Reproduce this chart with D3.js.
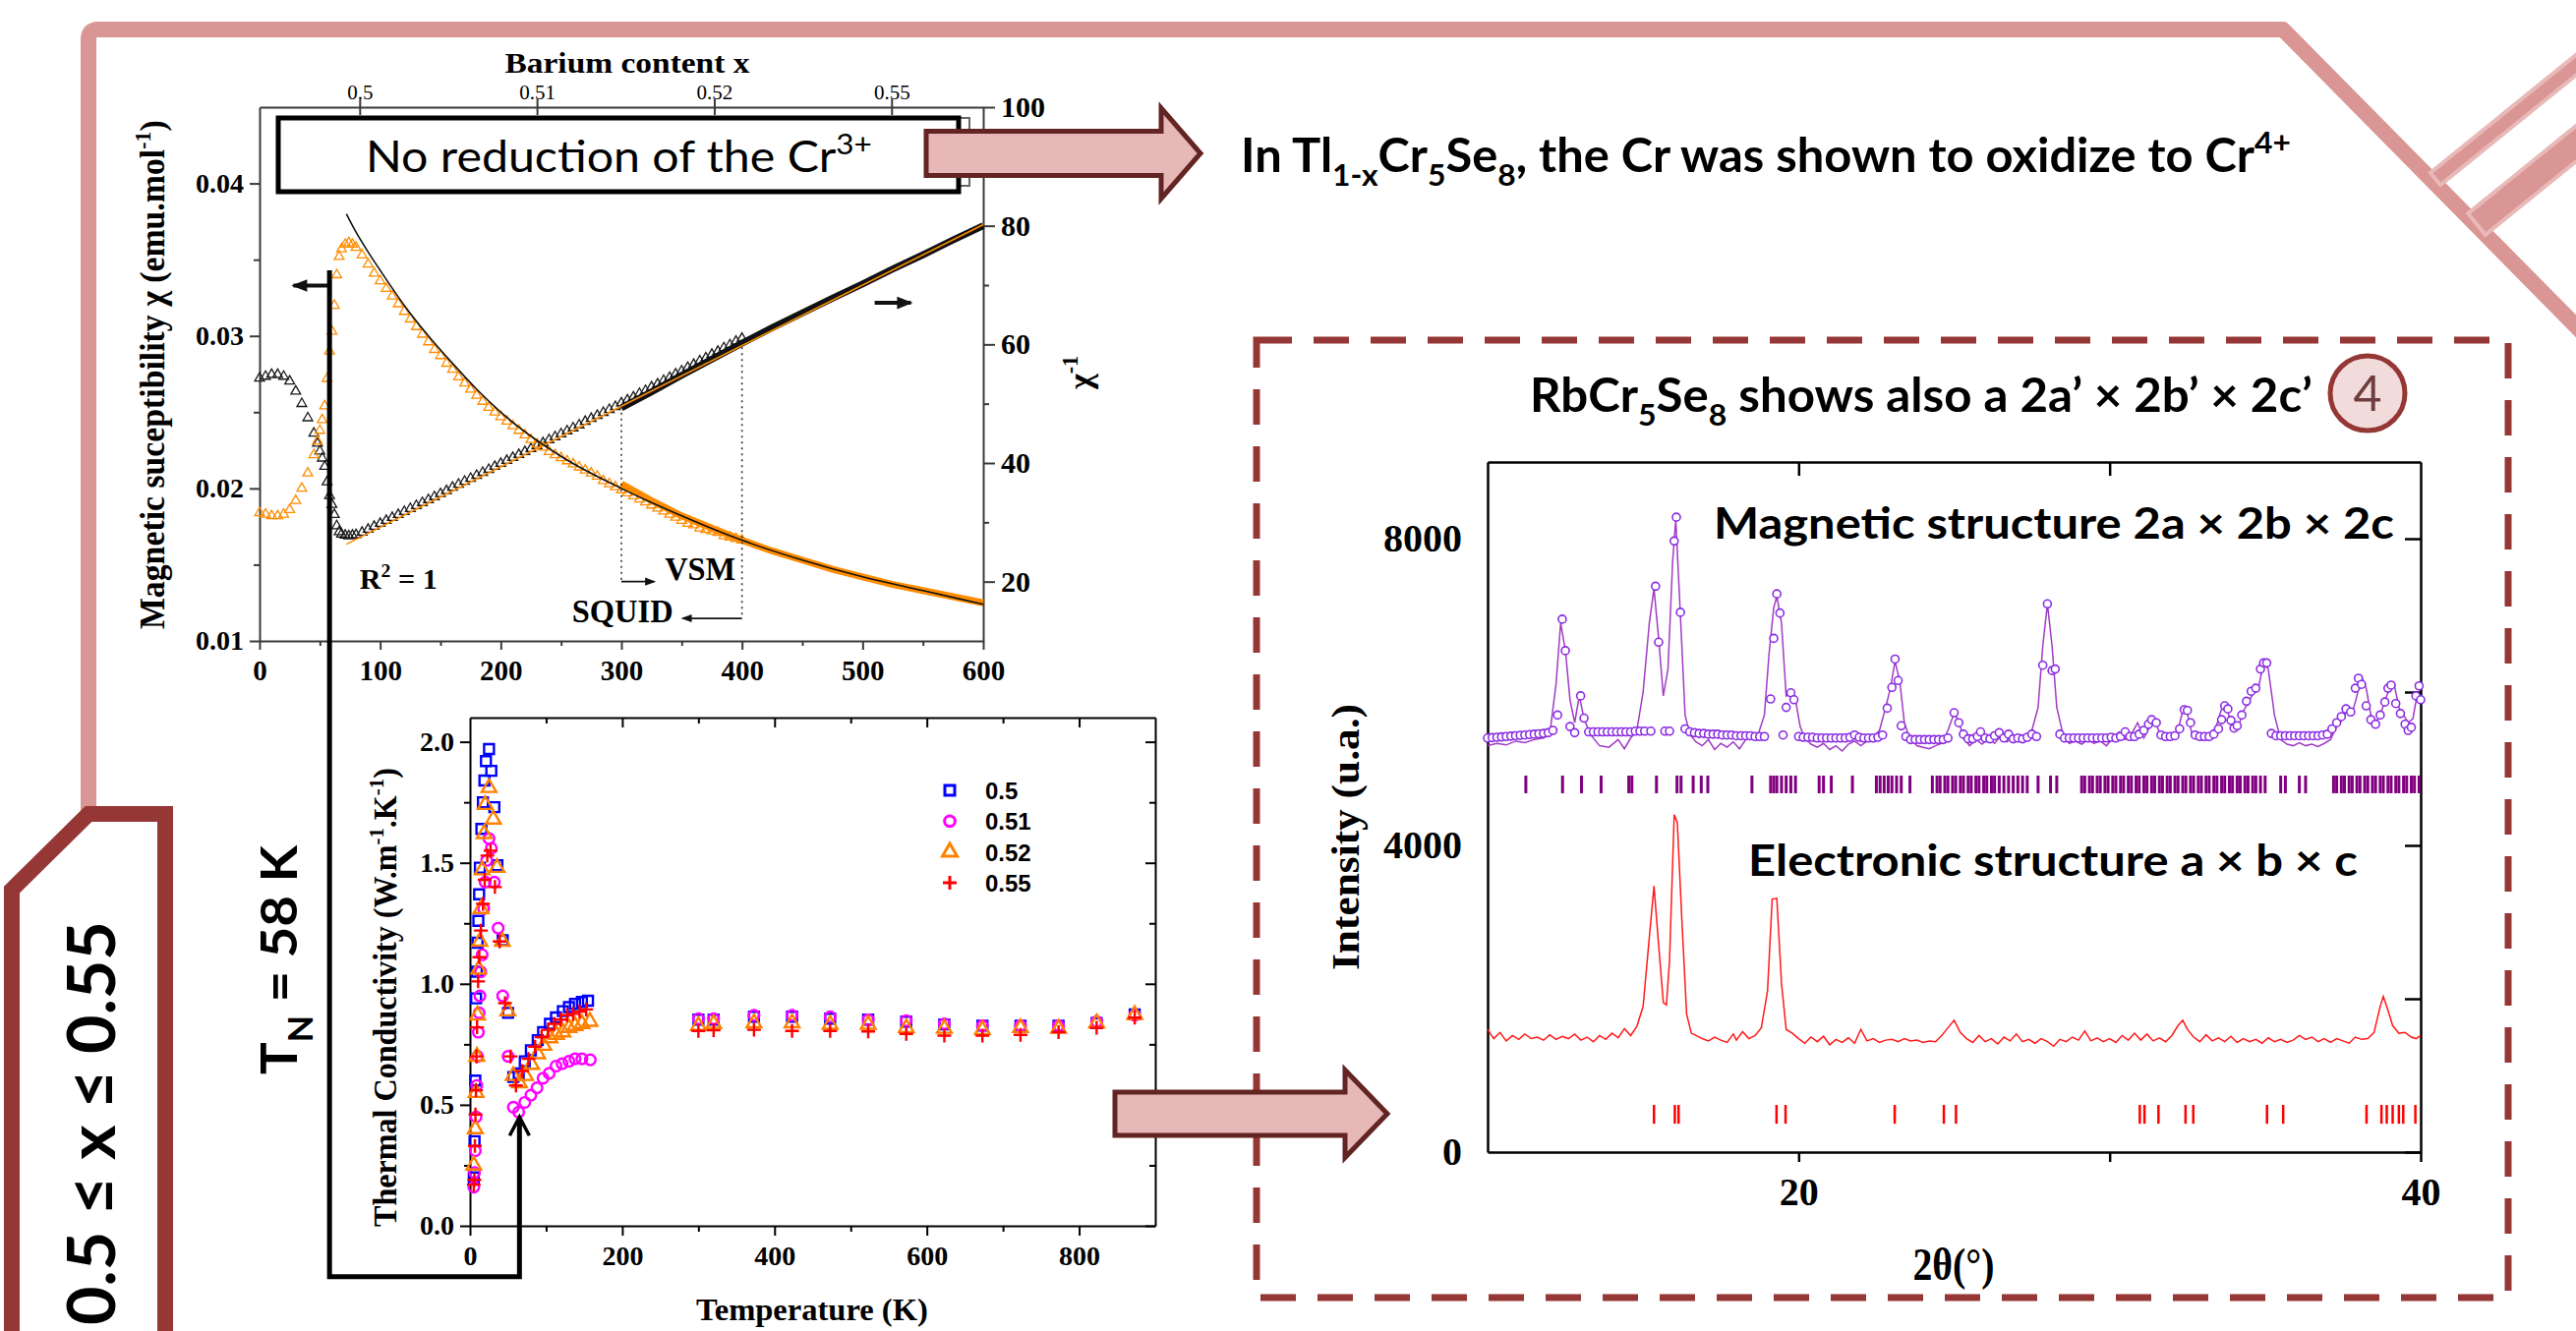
<!DOCTYPE html>
<html><head><meta charset="utf-8">
<script src="https://cdn.jsdelivr.net/npm/d3@7/dist/d3.min.js"></script>
<style>html,body{margin:0;padding:0;background:#fff;}svg{display:block;}</style>
</head><body>
<svg id="slide" width="2620" height="1354" xmlns="http://www.w3.org/2000/svg"></svg>
<script>
// ================= DATA =================
// --- Chart 1: magnetic susceptibility vs T (SQUID triangles) ---
const susT = [0,5,10,15,20,25,30,35,40,45,48,50,52,54,56,58,60,62,64,66,68,71,74,77,
  80,85,90,95,100,105,110,115,120,125,130,135,140,145,150,155,160,165,170,175,180,185,190,195,
  200,205,210,215,220,225,230,235,240,245,250,255,260,265,270,275,280,285,290,295,
  300,305,310,315,320,325,330,335,340,345,350,355,360,365,370,375,380,385,390,395,400];
const susChi = [.0184,.0183,.0182,.0182,.0183,.0186,.0192,.0200,.0210,.0222,
  .0231,.0238,.0245,.0254,.0272,.0290,.0303,.0320,.0340,.0352,.0357,.0360,.0361,.0360,
  .0358,.0353,.0347,.0341,.0336,.0331,.0326,.0321,.0316,.0311,.0306,.0301,.0296,.0291,.0287,.0282,
  .0278,.0273,.0269,.0265,.0261,.0257,.0253,.0250,.0247,.0244,.0241,.0238,.0235,.0232,.0229,.0227,
  .0224,.0222,.0220,.0218,.0216,.0214,.0212,.0210,.0208,.0205,.0203,.0201,.0199,.0197,.0195,.0193,
  .0191,.0189,.0187,.0185,.0183,.0181,.0179,.0177,.0176,.0174,.0173,.0172,.0171,.0169,.0168,.0167,.0166];
const susInv = [54.3,54.6,54.9,54.9,54.6,53.8,52.1,50.0,47.6,45.0,
  43.3,42.0,40.8,39.4,36.8,34.5,33.0,31.3,29.4,28.4,28.0,27.8,27.7,27.8,
  27.9,28.3,28.8,29.3,29.8,30.3,30.8,31.3,31.8,32.3,32.8,33.3,33.8,34.3,34.8,35.3,
  35.9,36.4,36.9,37.4,37.9,38.4,38.9,39.4,39.9,40.4,40.9,41.4,41.9,42.4,42.9,43.4,
  43.9,44.4,44.9,45.4,45.9,46.4,47.0,47.5,48.0,48.5,49.0,49.5,50.1,50.6,51.1,51.7,
  52.2,52.8,53.3,53.9,54.4,55.0,55.5,56.1,56.6,57.2,57.7,58.3,58.8,59.4,59.9,60.5,61.0];
// VSM (thick lines)
const vsmT   = [300,325,350,375,400,425,450,475,500,525,550,575,600];
const vsmChi = [.0203,.0192,.0182,.0174,.0166,.0159,.0153,.0147,.0142,.0137,.0133,.0129,.0125];
const vsmInv = [49.3,52.0,54.8,57.5,60.2,62.8,65.3,67.8,70.2,72.7,75.1,77.6,80.0];
// fits
const cwT   = [72,80,90,100,120,140,160,180,200,250,300,350,400,450,500,550,600];
const cwChi = [.0380,.0368,.0355,.0343,.0320,.0300,.0282,.0265,.0250,.0221,.0200,.0182,.0166,.0153,.0142,.0133,.0124];
const linT   = [72,600];
const linInv = [26.3,80.2];
// top axis (barium content)
const bariumLabels = ["0.5","0.51","0.52","0.55"];
const bariumT      = [83,230,377,524];
const chiTicks = [0.01,0.02,0.03,0.04];
const invTicks = [20,40,60,80,100];
const tempTicks1 = [0,100,200,300,400,500,600];

// --- Chart 2: thermal conductivity ---
const tcNames = ["0.5","0.51","0.52","0.55"];
const tc05T = [5,6,7,8,9,10,11,12,13,15,17,19,21,25,28,32,36,43,50,57,64,72,80,89,96,105,113,122,130,138,147,155,
  300,320,373,423,473,523,573,623,673,723,773,823,873];
const tc05K = [0.20,0.35,0.60,0.94,1.05,1.17,1.26,1.37,1.48,1.64,1.75,1.84,1.92,1.97,1.88,1.73,1.49,1.18,0.88,0.615,0.63,0.68,0.725,0.767,0.80,0.835,0.861,0.887,0.904,0.917,0.925,0.93,
  0.852,0.852,0.864,0.864,0.856,0.852,0.844,0.832,0.827,0.827,0.827,0.838,0.874];
const tc051T = [5,6,7,8,9,10,11,12,13,14,16,18,20,22,25,28,32,37,43,50,57,64,72,80,88,96,104,113,121,130,138,147,158,
  300,320,373,423,473,523,573,623,673,723,773,823,873];
const tc051K = [0.16,0.22,0.31,0.45,0.58,0.70,0.80,0.88,0.95,1.05,1.12,1.31,1.42,1.51,1.60,1.56,1.42,1.23,0.95,0.70,0.49,0.47,0.51,0.54,0.57,0.61,0.63,0.66,0.67,0.68,0.69,0.69,0.686,
  0.856,0.856,0.870,0.870,0.864,0.852,0.848,0.835,0.827,0.827,0.827,0.844,0.870];
const tc052T = [5,7,8,9,10,11.5,13,14.5,16,18.6,20,25,30.6,35.5,42.6,49.7,56.8,65,73,81,89,97,105,113.5,122,130,138,147,157.5,
  300,320,373,423,473,523,573,623,673,723,773,823,873];
const tc052K = [0.25,0.40,0.55,0.70,0.87,1.06,1.175,1.31,1.47,1.62,1.74,1.81,1.68,1.48,1.175,0.887,0.62,0.59,0.62,0.666,0.71,0.745,0.776,0.79,0.80,0.818,0.827,0.835,0.844,
  0.827,0.835,0.838,0.838,0.832,0.832,0.818,0.815,0.81,0.818,0.815,0.838,0.872];
const tc055T = [5,5.8,6.5,7.2,7.9,8.5,9.3,10.7,12.2,14.4,17.1,19.3,22.8,27,32.8,39,46,53.3,60.4,68.3,76.8,85.5,94,102.5,110.5,119,127.6,135.5,144,152.6,
  300,320,373,423,473,523,573,623,673,723,773,823,873];
const tc055K = [0.17,0.19,0.33,0.46,0.56,0.70,0.82,1.01,1.11,1.22,1.33,1.43,1.53,1.55,1.40,1.175,0.92,0.70,0.58,0.64,0.69,0.74,0.78,0.81,0.835,0.852,0.87,0.876,0.885,0.894,
  0.805,0.808,0.81,0.805,0.805,0.803,0.793,0.786,0.786,0.789,0.80,0.818,0.86];
const tcTicksY = [0,0.5,1,1.5,2];
const tcTicksX = [0,200,400,600,800];

// --- Chart 3: XRD patterns ---
const magLine = [[10.0,5300],[10.3,5330],[10.6,5310],[10.9,5360],[11.2,5340],[11.5,5380],[11.8,5400],[12.0,5450],[12.2,6100],[12.35,6900],[12.5,6550],[12.65,5900],[12.8,5600],[12.95,5950],[13.1,5650],[13.3,5450],[13.6,5300],[13.9,5280],[14.2,5380],[14.4,5260],[14.6,5400],[14.8,5500],[15.0,6000],[15.2,6900],[15.35,7350],[15.5,6700],[15.65,5950],[15.8,6300],[15.95,7700],[16.05,8250],[16.2,7000],[16.35,5700],[16.5,5450],[16.7,5350],[16.9,5300],[17.1,5380],[17.3,5250],[17.5,5330],[17.7,5280],[17.9,5350],[18.1,5260],[18.3,5380],[18.5,5400],[18.7,5450],[18.9,5700],[19.05,6500],[19.2,7100],[19.3,7250],[19.45,6900],[19.6,5950],[19.75,6000],[19.9,5900],[20.05,5550],[20.2,5400],[20.4,5320],[20.6,5280],[20.8,5330],[21.0,5250],[21.2,5300],[21.4,5230],[21.6,5320],[21.8,5360],[22.0,5300],[22.2,5360],[22.4,5420],[22.6,5500],[22.8,5800],[22.95,6050],[23.1,6400],[23.25,6150],[23.4,5600],[23.55,5420],[23.8,5300],[24.0,5280],[24.2,5260],[24.4,5300],[24.6,5330],[24.8,5500],[25.0,5720],[25.15,5620],[25.3,5400],[25.5,5300],[25.7,5380],[25.9,5320],[26.1,5400],[26.3,5330],[26.5,5430],[26.7,5350],[26.9,5420],[27.1,5380],[27.3,5430],[27.5,5500],[27.7,5800],[27.85,6600],[28.0,7150],[28.15,6600],[28.3,5800],[28.5,5450],[28.7,5330],[28.9,5360],[29.1,5320],[29.3,5380],[29.5,5330],[29.7,5360],[29.9,5300],[30.1,5400],[30.3,5480],[30.5,5380],[30.7,5450],[30.9,5600],[31.1,5400],[31.3,5560],[31.45,5640],[31.6,5470],[31.8,5400],[32.0,5380],[32.2,5500],[32.35,5760],[32.5,5720],[32.65,5450],[32.85,5400],[33.0,5380],[33.2,5450],[33.4,5520],[33.6,5780],[33.75,5820],[33.9,5600],[34.1,5500],[34.3,5750],[34.5,5900],[34.65,6000],[34.8,6080],[34.95,6380],[35.1,6300],[35.3,5700],[35.5,5380],[35.7,5320],[35.9,5300],[36.1,5340],[36.3,5300],[36.5,5320],[36.7,5290],[36.9,5330],[37.1,5380],[37.3,5550],[37.5,5650],[37.65,5780],[37.8,5720],[37.95,5950],[38.1,6200],[38.25,6050],[38.4,5700],[38.55,5600],[38.7,5700],[38.85,5880],[39.0,6050],[39.15,6100],[39.3,5800],[39.45,5700],[39.6,5600],[39.75,5650],[39.9,6000],[40.0,5850]];
const magObs = [[10.0,5400],[10.15,5405],[10.3,5410],[10.45,5415],[10.6,5420],[10.75,5425],[10.9,5430],[11.05,5435],[11.2,5440],[11.35,5445],[11.5,5450],[11.65,5455],[11.8,5460],[11.95,5470],[12.1,5500],[12.25,5700],[12.4,6950],[12.5,6540],[12.65,5550],[12.8,5470],[12.99,5950],[13.1,5660],[13.25,5480],[13.4,5480],[13.55,5480],[13.7,5480],[13.85,5480],[14.0,5480],[14.15,5480],[14.3,5480],[14.45,5480],[14.6,5480],[14.75,5490],[14.9,5490],[15.05,5490],[15.25,5490],[15.4,7380],[15.5,6650],[15.7,5490],[15.85,5490],[16.0,7970],[16.07,8280],[16.2,7040],[16.35,5520],[16.5,5480],[16.65,5470],[16.8,5460],[16.95,5460],[17.1,5450],[17.25,5450],[17.4,5450],[17.55,5440],[17.7,5440],[17.85,5440],[18.0,5430],[18.15,5430],[18.3,5430],[18.45,5430],[18.6,5420],[18.75,5420],[18.9,5420],[19.1,5910],[19.2,6700],[19.3,7280],[19.4,7030],[19.5,5440],[19.6,5800],[19.75,5990],[19.85,5900],[20.0,5420],[20.15,5410],[20.3,5410],[20.45,5410],[20.6,5400],[20.75,5400],[20.9,5400],[21.05,5400],[21.2,5400],[21.35,5400],[21.5,5400],[21.65,5410],[21.8,5440],[21.95,5410],[22.1,5400],[22.25,5400],[22.4,5400],[22.55,5410],[22.7,5440],[22.85,5790],[23.0,6060],[23.1,6430],[23.2,6150],[23.3,5560],[23.45,5420],[23.6,5380],[23.75,5380],[23.9,5380],[24.05,5380],[24.2,5380],[24.35,5380],[24.5,5380],[24.65,5380],[24.8,5400],[25.0,5730],[25.15,5600],[25.3,5450],[25.45,5390],[25.6,5390],[25.75,5420],[25.85,5480],[26.0,5400],[26.15,5390],[26.3,5430],[26.45,5470],[26.6,5400],[26.75,5450],[26.9,5390],[27.05,5400],[27.2,5390],[27.35,5410],[27.5,5450],[27.65,5420],[27.85,6350],[28.0,7150],[28.15,6280],[28.25,6300],[28.4,5450],[28.55,5400],[28.7,5400],[28.85,5400],[29.0,5400],[29.15,5400],[29.3,5400],[29.45,5400],[29.6,5400],[29.75,5400],[29.9,5400],[30.05,5410],[30.2,5400],[30.35,5420],[30.5,5480],[30.65,5420],[30.8,5420],[30.95,5450],[31.1,5500],[31.25,5580],[31.35,5640],[31.5,5600],[31.65,5440],[31.8,5420],[31.95,5420],[32.1,5430],[32.25,5520],[32.4,5770],[32.5,5760],[32.6,5600],[32.75,5440],[32.9,5420],[33.05,5420],[33.2,5420],[33.35,5450],[33.5,5520],[33.6,5640],[33.7,5820],[33.8,5780],[33.9,5630],[34.0,5530],[34.1,5560],[34.25,5700],[34.4,5880],[34.55,6010],[34.7,6050],[34.85,6300],[34.95,6380],[35.05,6380],[35.2,5460],[35.35,5430],[35.5,5430],[35.65,5430],[35.8,5430],[35.95,5430],[36.1,5430],[36.25,5430],[36.4,5430],[36.55,5430],[36.7,5430],[36.85,5440],[37.0,5450],[37.15,5520],[37.3,5600],[37.45,5680],[37.6,5780],[37.75,5740],[37.9,6050],[38.0,6180],[38.1,6100],[38.25,5820],[38.4,5640],[38.55,5580],[38.7,5700],[38.85,5870],[38.95,6050],[39.05,6090],[39.2,5850],[39.35,5720],[39.5,5580],[39.6,5500],[39.7,5540],[39.85,5950],[39.95,6080],[40.0,5900]];
const elecLine = [[10.0,1600],[10.2,1480],[10.4,1560],[10.6,1450],[10.8,1520],[11.0,1470],[11.2,1540],[11.4,1480],[11.6,1500],[11.8,1460],[12.0,1530],[12.2,1470],[12.4,1510],[12.6,1480],[12.8,1540],[13.0,1460],[13.2,1500],[13.4,1440],[13.6,1520],[13.8,1470],[14.0,1550],[14.2,1490],[14.4,1610],[14.6,1520],[14.8,1640],[15.0,1900],[15.2,2800],[15.35,3470],[15.5,2700],[15.65,1950],[15.75,1920],[15.85,2500],[16.0,4400],[16.1,4300],[16.25,3000],[16.4,1800],[16.55,1550],[16.7,1520],[16.9,1480],[17.1,1450],[17.3,1500],[17.5,1460],[17.7,1430],[17.9,1540],[18.0,1460],[18.2,1570],[18.4,1480],[18.6,1520],[18.8,1620],[19.0,2100],[19.15,3300],[19.3,3310],[19.45,2200],[19.6,1600],[19.8,1550],[20.0,1480],[20.2,1420],[20.4,1500],[20.6,1440],[20.8,1510],[21.0,1400],[21.2,1470],[21.4,1430],[21.6,1490],[21.8,1420],[22.0,1600],[22.2,1450],[22.4,1480],[22.6,1430],[22.8,1460],[23.0,1470],[23.2,1440],[23.4,1480],[23.6,1450],[23.8,1460],[24.0,1430],[24.2,1450],[24.4,1440],[24.6,1520],[24.8,1620],[25.0,1720],[25.2,1560],[25.4,1480],[25.6,1430],[25.8,1520],[26.0,1440],[26.2,1480],[26.4,1410],[26.6,1500],[26.8,1450],[27.0,1540],[27.2,1440],[27.4,1470],[27.6,1420],[27.8,1480],[28.0,1440],[28.2,1380],[28.4,1470],[28.6,1440],[28.8,1500],[29.0,1460],[29.2,1580],[29.4,1450],[29.6,1490],[29.8,1440],[30.0,1480],[30.2,1430],[30.4,1520],[30.6,1460],[30.8,1550],[31.0,1460],[31.2,1540],[31.4,1450],[31.6,1490],[31.8,1440],[32.0,1520],[32.2,1650],[32.35,1720],[32.5,1600],[32.7,1500],[32.9,1440],[33.1,1530],[33.3,1450],[33.5,1490],[33.7,1440],[33.9,1510],[34.1,1430],[34.3,1480],[34.5,1440],[34.7,1470],[34.9,1420],[35.1,1490],[35.3,1440],[35.5,1470],[35.7,1430],[35.9,1460],[36.1,1520],[36.3,1470],[36.5,1500],[36.7,1440],[36.9,1480],[37.1,1430],[37.3,1480],[37.5,1450],[37.7,1420],[37.9,1500],[38.1,1470],[38.3,1480],[38.5,1560],[38.7,1900],[38.8,2030],[38.95,1850],[39.1,1650],[39.3,1550],[39.5,1560],[39.7,1500],[39.85,1480],[40.0,1520]];
const magRefl = [11.23,12.41,13.02,13.65,14.54,14.64,15.43,16.09,16.22,16.61,16.87,17.08,18.5,19.1,19.2,19.3,19.45,19.6,19.75,19.9,20.66,20.8,21.05,21.73,22.5,22.62,22.75,22.88,23.0,23.15,23.3,23.58,24.3,24.45,24.55,24.7,24.8,24.95,25.05,25.2,25.3,25.45,25.55,25.7,25.8,25.95,26.05,26.2,26.3,26.45,26.6,26.75,26.9,27.05,27.2,27.35,27.7,28.1,28.3,29.1,29.2,29.35,29.45,29.6,29.7,29.85,29.95,30.1,30.2,30.35,30.45,30.6,30.7,30.85,30.95,31.1,31.2,31.35,31.45,31.6,31.7,31.85,31.95,32.1,32.2,32.35,32.45,32.6,32.7,32.85,32.95,33.1,33.2,33.35,33.45,33.6,33.7,33.85,33.95,34.1,34.2,34.35,34.45,34.6,34.7,34.85,35.0,35.5,35.65,36.1,36.3,37.2,37.3,37.45,37.55,37.7,37.8,37.95,38.05,38.2,38.3,38.45,38.55,38.7,38.8,38.95,39.05,39.2,39.3,39.45,39.55,39.7,39.8,39.95];
const elecRefl = [15.35,16.02,16.14,19.29,19.58,23.09,24.67,25.06,30.97,31.12,31.57,32.44,32.69,35.06,35.58,38.26,38.74,38.91,39.1,39.3,39.44,39.83];
const xrdTicksY = [0,4000,8000];
const xrdMinorY = [2000,6000];

// ================= HELPERS =================
const svg = d3.select('#slide');
const SERIF = '"Liberation Serif","Times New Roman",serif';
const SANS = 'Lato,"Open Sans",sans-serif';
const ARIAL = '"Liberation Sans",Arial,sans-serif';

function rich(parent, parts, o) {
  const g = parent.append('g');
  const t = g.append('text').attr('font-family', o.font).attr('font-weight', o.weight || 'normal')
    .attr('font-size', o.size).attr('fill', o.fill || '#000').style('white-space', 'pre');
  let cur = 0;
  parts.forEach(p => {
    const [str, mode] = Array.isArray(p) ? p : [p, null];
    const off = mode === 'sub' ? o.size * 0.3 : mode === 'sup' ? -o.size * 0.4 : 0;
    t.append('tspan').text(str).attr('dy', off - cur).attr('font-size', mode ? o.size * 0.65 : o.size);
    cur = off;
  });
  const len = t.node().getComputedTextLength();
  const sx = o.width ? o.width / len : 1;
  let dx = 0;
  if (o.anchor === 'middle') dx = -len * sx / 2; else if (o.anchor === 'end') dx = -len * sx;
  g.attr('transform', `translate(${o.x},${o.y}) rotate(${o.rot || 0}) translate(${dx},0) scale(${sx},1)`);
  return g;
}
function drawAxis(parent, gen, tr, o) {
  const g = parent.append('g').attr('transform', tr).call(gen);
  g.select('.domain').attr('stroke', o.color || '#000').attr('stroke-width', o.lw || 2);
  if (o.noDomain) g.select('.domain').remove();
  g.selectAll('.tick line').attr('stroke', o.color || '#000').attr('stroke-width', o.lw || 2);
  g.selectAll('.tick text').attr('font-family', o.font || SERIF).attr('font-weight', o.weight || 'bold')
    .attr('font-size', o.size || 28).attr('fill', '#000');
  return g;
}
const line = (xs, ys) => d3.line().x(d => xs(d[0])).y(d => ys(d[1]));

// ================= SLIDE DECORATION =================
const deco = svg.append('g');
deco.append('path').attr('d', 'M90,840 L90,40 Q90,30 100,30 L2322,30 L2640,352')
  .attr('fill', 'none').attr('stroke', '#d99694').attr('stroke-width', 16).attr('stroke-linejoin', 'round');
[[2477, 182, 16], [2519, 228, 28]].forEach(([bx, by, bw]) => {
  deco.append('rect').attr('transform', `translate(${bx},${by}) rotate(-39)`)
    .attr('x', 0).attr('y', -bw / 2).attr('width', 260).attr('height', bw)
    .attr('fill', '#d99694').attr('stroke', '#e8b9b8').attr('stroke-width', 4);
});
deco.append('path').attr('d', 'M12,1380 L12,905 L90,828 L168,828 L168,1380')
  .attr('fill', '#fff').attr('stroke', '#953735').attr('stroke-width', 16).attr('stroke-linejoin', 'miter');
rich(deco, ['0.5 ≤ x ≤ 0.55'], {x: 117, y: 1348, rot: -90, font: SANS, weight: 'bold', size: 66, width: 411});

// dashed box on the right
deco.append('rect').attr('x', 1278).attr('y', 346).attr('width', 1273).attr('height', 974)
  .attr('fill', 'none').attr('stroke', '#953735').attr('stroke-width', 7).attr('stroke-dasharray', '36 22');

// ================= CHART 1 : susceptibility =================
const c1 = svg.append('g');
const x1 = d3.scaleLinear().domain([0, 600]).range([264, 1000]);
const yL = d3.scaleLinear().domain([0.01, 0.045]).range([652, 109]);
const yR = d3.scaleLinear().domain([10, 100]).range([652, 109]);
const AX1 = {color: '#3a3a3a', lw: 2};

drawAxis(c1, d3.axisBottom(x1).tickValues(tempTicks1).tickSize(9).tickPadding(10).tickSizeOuter(0), 'translate(0,652)', {...AX1, size: 29});
drawAxis(c1, d3.axisBottom(x1).tickValues([50,150,250,350,450,550]).tickSize(5).tickFormat(''), 'translate(0,652)', {...AX1, noDomain: true});
drawAxis(c1, d3.axisLeft(yL).tickValues(chiTicks).tickFormat(d3.format('.2f')).tickSize(10).tickPadding(6).tickSizeOuter(0), 'translate(264,0)', {...AX1, size: 28});
drawAxis(c1, d3.axisLeft(yL).tickValues([0.015,0.025,0.035]).tickSize(6).tickFormat(''), 'translate(264,0)', {...AX1, noDomain: true});
drawAxis(c1, d3.axisRight(yR).tickValues(invTicks).tickSize(12).tickPadding(6).tickSizeOuter(0), 'translate(1000,0)', {...AX1, size: 30});
drawAxis(c1, d3.axisRight(yR).tickValues([30,50,70,90]).tickSize(6).tickFormat(''), 'translate(1000,0)', {...AX1, noDomain: true});
const topAx = drawAxis(c1, d3.axisTop(x1).tickValues(bariumT).tickFormat((d, i) => bariumLabels[i]).tickSize(8).tickPadding(0).tickSizeOuter(0),
  'translate(0,109)', {...AX1, size: 21, weight: 'normal'});
topAx.selectAll('.tick line').attr('y1', 8);

// SQUID triangles
const tri = d3.symbol(d3.symbolTriangle, 42)();
const susBlack = d3.zip(susT, susInv), susOrange = d3.zip(susT, susChi);
c1.append('g').selectAll('path').data(susBlack).join('path')
  .attr('d', tri).attr('transform', d => `translate(${x1(d[0])},${yR(d[1])})`)
  .attr('fill', 'none').attr('stroke', '#1a1a1a').attr('stroke-width', 1.3);
c1.append('g').selectAll('path').data(susOrange).join('path')
  .attr('d', tri).attr('transform', d => `translate(${x1(d[0])},${yL(d[1])})`)
  .attr('fill', 'none').attr('stroke', '#ff8c00').attr('stroke-width', 1.3);
// VSM thick lines
c1.append('path').datum(d3.zip(vsmT, vsmInv)).attr('d', line(x1, yR)).attr('fill', 'none').attr('stroke', '#111').attr('stroke-width', 7);
c1.append('path').datum(d3.zip(vsmT, vsmChi)).attr('d', line(x1, yL)).attr('fill', 'none').attr('stroke', '#ff8c00').attr('stroke-width', 7);
// fits
c1.append('path').datum(d3.zip(linT, linInv)).attr('d', line(x1, yR)).attr('fill', 'none').attr('stroke', '#ff8c00').attr('stroke-width', 1.6);
c1.append('path').datum(d3.zip(cwT, cwChi)).attr('d', line(x1, yL).curve(d3.curveMonotoneX)).attr('fill', 'none').attr('stroke', '#111').attr('stroke-width', 1.6);

// dotted markers + VSM / SQUID
c1.append('line').attr('x1', x1(300)).attr('x2', x1(300)).attr('y1', yR(49.5)).attr('y2', yR(20))
  .attr('stroke', '#333').attr('stroke-width', 1.6).attr('stroke-dasharray', '2 4');
c1.append('line').attr('x1', x1(400)).attr('x2', x1(400)).attr('y1', yR(59.5)).attr('y2', yR(13.8))
  .attr('stroke', '#333').attr('stroke-width', 1.6).attr('stroke-dasharray', '2 4');
function smallArrow(g, xa, xb, y, w, head) {
  g.append('line').attr('x1', xa).attr('x2', xb).attr('y1', y).attr('y2', y).attr('stroke', '#111').attr('stroke-width', w);
  const dir = Math.sign(xb - xa);
  g.append('path').attr('d', `M${xb + dir * 2},${y} L${xb - dir * head},${y - head * 0.45} L${xb - dir * head},${y + head * 0.45} Z`).attr('fill', '#111');
}
smallArrow(c1, x1(300), x1(327), yR(20), 1.8, 9);
smallArrow(c1, x1(400), x1(351), yR(13.8), 1.8, 9);
rich(c1, ['VSM'], {x: x1(336), y: 590, font: SERIF, weight: 'bold', size: 33, width: 72});
rich(c1, ['SQUID'], {x: x1(259), y: 633, font: SERIF, weight: 'bold', size: 33, width: 103});
rich(c1, ['R', ['2', 'sup'], ' = 1'], {x: x1(83), y: 599, font: SERIF, weight: 'bold', size: 30, width: 79});
smallArrow(c1, x1(58), x1(28), yL(0.0333), 4, 14);
smallArrow(c1, x1(510), x1(540), yR(67), 4, 14);

// axis titles
rich(c1, ['Barium content x'], {x: 638, y: 74, anchor: 'middle', font: SERIF, weight: 'bold', size: 29, width: 249});
rich(c1, ['Magnetic suceptibility χ (emu.mol', ['-1', 'sup'], ')'], {x: 167, y: 640, rot: -90, font: SERIF, weight: 'bold', size: 35, width: 518});
rich(c1, ['χ', ['-1', 'sup']], {x: 1110, y: 396, rot: -90, font: SERIF, weight: 'bold', size: 34});

// "No reduction" box
c1.append('rect').attr('x', 300).attr('y', 120).attr('width', 686).attr('height', 69).attr('fill', '#fff').attr('stroke', '#666').attr('stroke-width', 2);
c1.append('rect').attr('x', 283).attr('y', 120).attr('width', 692).attr('height', 75).attr('fill', '#fff').attr('stroke', '#000').attr('stroke-width', 5);
rich(c1, ['No reduction of the Cr', ['3+', 'sup']], {x: 372, y: 175, font: SANS, size: 45, width: 515});

// ================= CHART 2 : thermal conductivity =================
const c2 = svg.append('g');
const x2 = d3.scaleLinear().domain([0, 900]).range([478, 1175]);
const y2 = d3.scaleLinear().domain([0, 2.1]).range([1247, 730]);
const AX2 = {color: '#000', lw: 2};
drawAxis(c2, d3.axisBottom(x2).tickValues(tcTicksX).tickSize(10).tickPadding(10).tickSizeOuter(0), 'translate(0,1247)', {...AX2, size: 28});
drawAxis(c2, d3.axisBottom(x2).tickValues([100,300,500,700]).tickSize(6).tickFormat(''), 'translate(0,1247)', {...AX2, noDomain: true});
drawAxis(c2, d3.axisTop(x2).tickValues(tcTicksX.slice(1)).tickSize(-10).tickFormat('').tickSizeOuter(0), 'translate(0,730)', AX2);
drawAxis(c2, d3.axisTop(x2).tickValues([100,300,500,700]).tickSize(-6).tickFormat(''), 'translate(0,730)', {...AX2, noDomain: true});
drawAxis(c2, d3.axisLeft(y2).tickValues(tcTicksY).tickFormat(d3.format('.1f')).tickSize(10).tickPadding(6).tickSizeOuter(0), 'translate(478,0)', {...AX2, size: 28});
drawAxis(c2, d3.axisLeft(y2).tickValues([0.25,0.75,1.25,1.75]).tickSize(6).tickFormat(''), 'translate(478,0)', {...AX2, noDomain: true});
drawAxis(c2, d3.axisRight(y2).tickValues(tcTicksY).tickSize(-10).tickFormat('').tickSizeOuter(0), 'translate(1175,0)', AX2);
drawAxis(c2, d3.axisRight(y2).tickValues([0.25,0.75,1.25,1.75]).tickSize(-6).tickFormat(''), 'translate(1175,0)', {...AX2, noDomain: true});

const mk = {
  sq: {d: d3.symbol(d3.symbolSquare, 100)(), color: '#0000ff'},
  ci: {d: d3.symbol(d3.symbolCircle, 90)(), color: '#ff00ff'},
  tr: {d: d3.symbol(d3.symbolTriangle, 95)(), color: '#ff8000'},
  pl: {d: 'M-7,0H7M0,-7V7', color: '#ff0000'}
};
const tcSets = [[tc05T, tc05K, mk.sq], [tc051T, tc051K, mk.ci], [tc052T, tc052K, mk.tr], [tc055T, tc055K, mk.pl]];
tcSets.forEach(([T, K, m]) => {
  c2.append('g').selectAll('path').data(d3.zip(T, K)).join('path')
    .attr('d', m.d).attr('transform', d => `translate(${x2(d[0])},${y2(d[1])})`)
    .attr('fill', 'none').attr('stroke', m.color).attr('stroke-width', 2.4);
});
// legend
tcSets.forEach(([T, K, m], i) => {
  const yy = 804 + i * 31.3;
  c2.append('path').attr('d', m.d).attr('transform', `translate(966,${yy})`).attr('fill', 'none').attr('stroke', m.color).attr('stroke-width', 3);
  c2.append('text').attr('x', 1002).attr('y', yy + 9).text(tcNames[i]).attr('font-family', ARIAL).attr('font-weight', 'bold').attr('font-size', 24);
});
rich(c2, ['Temperature (K)'], {x: 826, y: 1343, anchor: 'middle', font: SERIF, weight: 'bold', size: 31, width: 236});
rich(c2, ['Thermal Conductivity (W.m', ['-1', 'sup'], '.K', ['-1', 'sup'], ')'], {x: 403, y: 1248, rot: -90, font: SERIF, weight: 'bold', size: 33, width: 467});

// T_N connector
c2.append('path').attr('d', `M${x1(58)},${yL(0.0343)} L${x1(58)},${y2(-0.21)} L${x2(65)},${y2(-0.21)} L${x2(65)},${y2(0.45) + 2}`)
  .attr('fill', 'none').attr('stroke', '#000').attr('stroke-width', 5).attr('stroke-linejoin', 'miter');
c2.append('path').attr('d', `M${x2(65) - 10},${y2(0.45) + 19} L${x2(65)},${y2(0.45)} L${x2(65) + 10},${y2(0.45) + 19}`)
  .attr('fill', 'none').attr('stroke', '#000').attr('stroke-width', 3.5);
rich(c2, ['T', ['N', 'sub'], ' = 58 K'], {x: 302, y: 1093, rot: -90, font: SANS, weight: 'bold', size: 52, width: 233});

// ================= CHART 3 : XRD =================
const c3 = svg.append('g');
const x3 = d3.scaleLinear().domain([10, 40]).range([1513, 2462]);
const y3 = d3.scaleLinear().domain([0, 9000]).range([1172, 470]);
const AX3 = {color: '#000', lw: 2.5};
drawAxis(c3, d3.axisBottom(x3).tickValues([20, 30, 40]).tickSize(10).tickPadding(16).tickFormat(d => d === 30 ? '' : d).tickSizeOuter(0), 'translate(0,1172)', {...AX3, size: 40});
drawAxis(c3, d3.axisTop(x3).tickValues([20, 30]).tickSize(-14).tickFormat('').tickSizeOuter(0), 'translate(0,470)', AX3);
drawAxis(c3, d3.axisLeft(y3).tickValues(xrdTicksY).tickFormat(d3.format('d')).tickSize(0).tickPadding(26).tickSizeOuter(0), 'translate(1513,0)', {...AX3, size: 40});
drawAxis(c3, d3.axisRight(y3).tickValues(xrdTicksY.concat(xrdMinorY)).tickSize(-16).tickFormat('').tickSizeOuter(0), 'translate(2462,0)', AX3);

c3.append('path').datum(magLine).attr('d', line(x3, y3)).attr('fill', 'none').attr('stroke', '#a23bc4').attr('stroke-width', 1.5);
c3.append('g').selectAll('circle').data(magObs).join('circle')
  .attr('cx', d => x3(d[0])).attr('cy', d => y3(d[1])).attr('r', 4)
  .attr('fill', '#fff').attr('stroke', '#8a2be2').attr('stroke-width', 1.6);
c3.append('g').selectAll('line').data(magRefl).join('line')
  .attr('x1', d => x3(d)).attr('x2', d => x3(d)).attr('y1', y3(4680)).attr('y2', y3(4910))
  .attr('stroke', '#800080').attr('stroke-width', 3);
c3.append('path').datum(elecLine).attr('d', line(x3, y3)).attr('fill', 'none').attr('stroke', '#ff1a1a').attr('stroke-width', 1.5);
c3.append('g').selectAll('line').data(elecRefl).join('line')
  .attr('x1', d => x3(d)).attr('x2', d => x3(d)).attr('y1', y3(370)).attr('y2', y3(615))
  .attr('stroke', '#ff0000').attr('stroke-width', 2.5);

rich(c3, ['Magnetic structure 2a × 2b × 2c'], {x: 1743, y: 548, font: SANS, weight: 'bold', size: 44, width: 692});
rich(c3, ['Electronic structure a × b × c'], {x: 1778, y: 891, font: SANS, weight: 'bold', size: 44, width: 620});
rich(c3, ['Intensity (u.a.)'], {x: 1382, y: 987, rot: -90, font: SERIF, weight: 'bold', size: 40, width: 271});
rich(c3, ['2θ(°)'], {x: 1987, y: 1302, anchor: 'middle', font: SERIF, weight: 'bold', size: 46, width: 83});
rich(c3, ['RbCr', ['5', 'sub'], 'Se', ['8', 'sub'], ' shows also a 2a’ × 2b’ × 2c’'], {x: 1556, y: 419, font: SANS, weight: 'bold', size: 48, width: 796});
c3.append('circle').attr('cx', 2408).attr('cy', 400).attr('r', 38).attr('fill', '#f2dcdb').attr('stroke', '#953735').attr('stroke-width', 5);
c3.append('text').attr('x', 2408).attr('y', 418).attr('text-anchor', 'middle').text('4')
  .attr('font-family', SANS).attr('font-size', 50).attr('fill', '#6e3d3c');

// ================= ARROWS + MAIN TEXT =================
function bigArrow(x0, x1b, xt, yc, bh, hh) {
  svg.append('path').attr('d', `M${x0},${yc - bh / 2} L${x1b},${yc - bh / 2} L${x1b},${yc - hh / 2} L${xt},${yc} L${x1b},${yc + hh / 2} L${x1b},${yc + bh / 2} L${x0},${yc + bh / 2} Z`)
    .attr('fill', '#e6b9b8').attr('stroke', '#632523').attr('stroke-width', 5).attr('stroke-linejoin', 'miter');
}
bigArrow(942, 1181, 1221, 156, 45, 92);
bigArrow(1134, 1368, 1411, 1133, 44, 89);
rich(svg, ['In Tl', ['1-x', 'sub'], 'Cr', ['5', 'sub'], 'Se', ['8', 'sub'], ', the Cr was shown to oxidize to Cr', ['4+', 'sup']],
  {x: 1262, y: 175, font: SANS, weight: 'bold', size: 48, width: 1068});
</script>
</body></html>
